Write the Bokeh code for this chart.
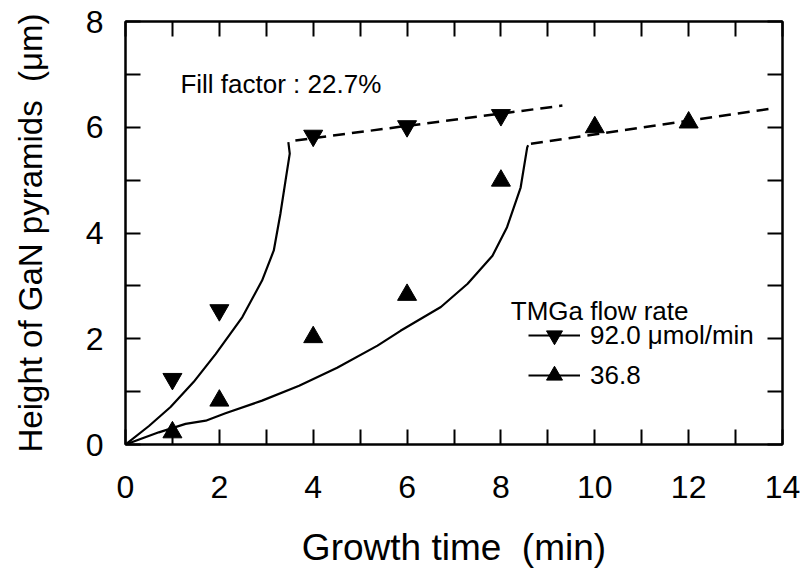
from bokeh.plotting import figure
from bokeh.models import (Range1d, FixedTicker, LinearAxis, Label, Legend,
                          LegendItem, CustomJSTickFormatter)
from bokeh.embed import file_html
from bokeh.resources import INLINE

# ---- data ----
time_92 = [1, 2, 4, 6, 8]
height_92 = [1.24, 2.54, 5.84, 6.02, 6.23]

time_368 = [1, 2, 4, 6, 8, 10, 12]
height_368 = [0.23, 0.83, 2.03, 2.83, 4.99, 6.00, 6.09]

model_92_t = [0, 0.5, 0.96, 1.45, 1.92, 2.49, 2.91, 3.16, 3.30, 3.41, 3.50, 3.47]
model_92_h = [0, 0.35, 0.71, 1.18, 1.71, 2.41, 3.10, 3.67, 4.36, 4.99, 5.50, 5.72]

model_368_t = [0, 0.71, 1.28, 1.71, 2.13, 2.91, 3.70, 4.51, 5.37, 5.86, 6.72,
               7.29, 7.82, 8.13, 8.42, 8.56, 8.58]
model_368_h = [0, 0.23, 0.39, 0.45, 0.59, 0.83, 1.11, 1.45, 1.87, 2.15, 2.60,
               3.04, 3.57, 4.11, 4.86, 5.62, 5.66]

trend_92_t = [3.62, 9.31]
trend_92_h = [5.75, 6.41]
trend_368_t = [8.64, 13.75]
trend_368_h = [5.69, 6.35]

x_major = [0, 2, 4, 6, 8, 10, 12, 14]
x_minor = [1, 3, 5, 7, 9, 11, 13]
y_major = [0, 2, 4, 6, 8]
y_minor = [1, 3, 5, 7]

label_92 = "92.0 μmol/min"
label_368 = "36.8"
legend_title = "TMGa flow rate"
note_text = "Fill factor : 22.7%"
x_title = "Growth time\u00a0 (min)"
y_title = "Height of GaN pyramids\u00a0 (μm)"

FONT = "Liberation Sans"

p = figure(width=803, height=578, x_range=Range1d(0, 14), y_range=Range1d(0, 8),
           output_backend="svg", toolbar_location=None,
           min_border_left=125, min_border_right=21, min_border_top=21,
           min_border_bottom=134)
p.grid.visible = False
p.background_fill_color = "white"
p.border_fill_color = "white"
p.outline_line_color = "black"
p.outline_line_width = 2


def style_axis(ax, major, minor, show_labels, standoff=20):
    ax.ticker = FixedTicker(ticks=major, minor_ticks=minor)
    ax.axis_line_color = "black"
    ax.axis_line_width = 2
    ax.major_tick_in = 15
    ax.major_tick_out = 0
    ax.minor_tick_in = 15
    ax.minor_tick_out = 0
    ax.major_tick_line_color = "black"
    ax.minor_tick_line_color = "black"
    ax.major_tick_line_width = 2
    ax.minor_tick_line_width = 2
    ax.major_label_text_font = FONT
    ax.major_label_text_color = "black"
    if show_labels:
        ax.major_label_text_font_size = "32px"
        ax.major_label_standoff = standoff
        ax.axis_label_text_font = FONT
        ax.axis_label_text_font_style = "normal"
        ax.axis_label_text_color = "black"
    else:
        ax.formatter = CustomJSTickFormatter(code="return ''")
        ax.major_label_text_font_size = "0px"
        ax.major_label_standoff = 0


style_axis(p.xaxis[0], x_major, x_minor, True, 31)
style_axis(p.yaxis[0], y_major, y_minor, True, 22)
p.xaxis[0].axis_label = x_title
p.xaxis[0].axis_label_text_font_size = "37px"
p.xaxis[0].axis_label_standoff = 26
p.yaxis[0].axis_label = y_title
p.yaxis[0].axis_label_text_font_size = "33px"
p.yaxis[0].axis_label_standoff = 34

top_ax = LinearAxis()
style_axis(top_ax, x_major, x_minor, False)
p.add_layout(top_ax, "above")
right_ax = LinearAxis()
style_axis(right_ax, y_major, y_minor, False)
p.add_layout(right_ax, "right")

# model curves
r_c92 = p.line(model_92_t, model_92_h, line_color="black", line_width=2.2)
r_c368 = p.line(model_368_t, model_368_h, line_color="black", line_width=2.2)
# saturation trend lines
p.line(trend_92_t, trend_92_h, line_color="black", line_width=2.5, line_dash="12 7")
p.line(trend_368_t, trend_368_h, line_color="black", line_width=2.5, line_dash="12 7")
# data points
r_p92 = p.scatter(time_92, height_92, marker="inverted_triangle", size=19,
                  fill_color="black", line_color="black")
r_p368 = p.scatter(time_368, height_368, marker="triangle", size=19,
                   fill_color="black", line_color="black")

legend = Legend(items=[LegendItem(label=label_92, renderers=[r_c92, r_p92]),
                       LegendItem(label=label_368, renderers=[r_c368, r_p368])],
                location=(403, 49), orientation="vertical",
                glyph_width=52, glyph_height=40, spacing=-3,
                label_standoff=10, padding=0, margin=0,
                label_text_font=FONT, label_text_font_size="26px",
                label_text_color="black",
                border_line_color=None, background_fill_alpha=0)
p.add_layout(legend)

p.add_layout(Label(x=8.21, y=2.53, text=legend_title, text_font=FONT,
                   text_font_size="26px", text_color="black",
                   text_baseline="alphabetic"))
p.add_layout(Label(x=1.17, y=6.81, text=note_text, text_font=FONT,
                   text_font_size="26px", text_color="black",
                   text_baseline="alphabetic"))

open("out.html", "w").write(file_html(p, INLINE))
